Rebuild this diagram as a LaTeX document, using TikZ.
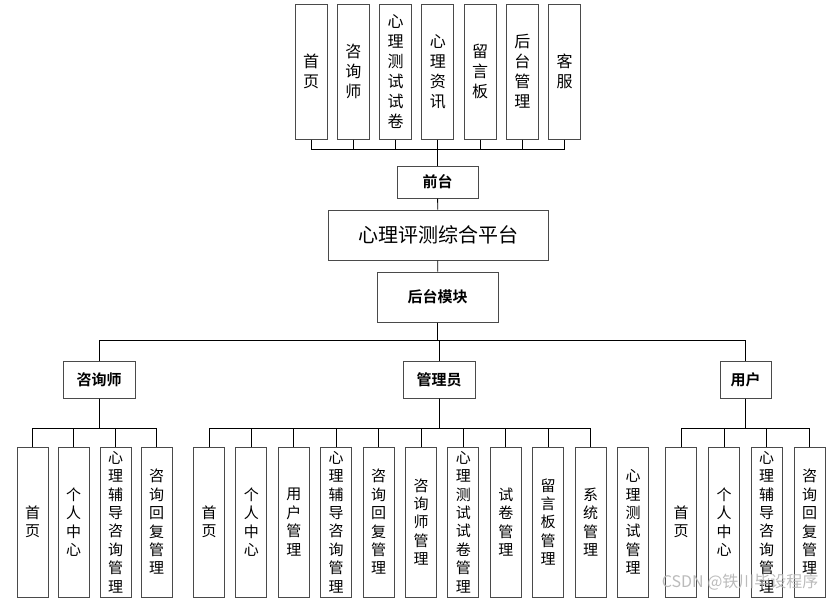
\documentclass[tikz,border=0pt]{standalone}
\usepackage{fontspec}
\setmainfont{Noto Sans CJK SC}
\newfontfamily\cjkbold{Noto Sans CJK SC Bold}
\usetikzlibrary{calc}
\definecolor{boxgray}{HTML}{4A4A4A}
\definecolor{marktext}{HTML}{B4B4B4}

\begin{document}
\begin{tikzpicture}[x=1pt, y=-1pt,
    box/.style={draw=boxgray, line width=1pt, fill=white, inner sep=0pt, align=center},
    tall/.style={box, minimum width=32pt, minimum height=135pt, font=\fontsize{16}{20}\selectfont},
    leaf/.style={box, minimum width=31pt, minimum height=150pt, font=\fontsize{15}{18.4}\selectfont},
    role/.style={box, minimum height=37pt, font=\cjkbold\fontsize{15}{18}\selectfont},
    link/.style={draw=black, line width=0.9pt}
  ]
    \useasboundingbox (0,0) rectangle (835,603);

    % front-end pages
    \node[tall] (sy)   at (311.0, 71.5) {首\\页};
    \node[tall] (zxs)  at (353.3, 71.5) {咨\\询\\师};
    \node[tall] (xlsj) at (395.5, 71.5) {心\\理\\测\\试\\试\\卷};
    \node[tall] (xlzx) at (437.8, 71.5) {心\\理\\资\\讯};
    \node[tall] (lyb)  at (480.0, 71.5) {留\\言\\板};
    \node[tall] (htgl) at (522.3, 71.5) {后\\台\\管\\理};
    \node[tall] (kf)   at (564.5, 71.5) {客\\服};

    \node[box, minimum width=81pt, minimum height=32pt, font=\cjkbold\fontsize{15}{18}\selectfont]
          (qt) at (437.5,182) {前台};
    \node[box, minimum width=220pt, minimum height=50pt, font=\fontsize{20}{24}\selectfont]
          (pt) at (438,235) {心理评测综合平台};
    \node[box, minimum width=121pt, minimum height=50pt, font=\cjkbold\fontsize{15}{18}\selectfont]
          (ht) at (437.5,297) {后台模块};

    % roles
    \node[role, minimum width=72pt] (rz) at (99,379.5)    {咨询师};
    \node[role, minimum width=72pt] (rg) at (439,379.5)   {管理员};
    \node[role, minimum width=51pt] (ry) at (745.5,379.5) {用户};

    % counsellor
    \node[leaf] (z1) at (32.5,522)  {首\\页};
    \node[leaf] (z2) at (73.5,522)  {个\\人\\中\\心};
    \node[leaf] (z3) at (115.5,522) {心\\理\\辅\\导\\咨\\询\\管\\理};
    \node[leaf] (z4) at (156.5,522) {咨\\询\\回\\复\\管\\理};

    % administrator
    \node[leaf] (g1)  at (209.0,522) {首\\页};
    \node[leaf] (g2)  at (251.4,522) {个\\人\\中\\心};
    \node[leaf] (g3)  at (293.8,522) {用\\户\\管\\理};
    \node[leaf] (g4)  at (336.2,522) {心\\理\\辅\\导\\咨\\询\\管\\理};
    \node[leaf] (g5)  at (378.6,522) {咨\\询\\回\\复\\管\\理};
    \node[leaf] (g6)  at (421.0,522) {咨\\询\\师\\管\\理};
    \node[leaf] (g7)  at (463.4,522) {心\\理\\测\\试\\试\\卷\\管\\理};
    \node[leaf] (g8)  at (505.8,522) {试\\卷\\管\\理};
    \node[leaf] (g9)  at (548.2,522) {留\\言\\板\\管\\理};
    \node[leaf] (g10) at (590.6,522) {系\\统\\管\\理};
    \node[leaf] (g11) at (633.0,522) {心\\理\\测\\试\\管\\理};

    % user
    \node[leaf] (y1) at (681.0,522) {首\\页};
    \node[leaf] (y2) at (724.0,522) {个\\人\\中\\心};
    \node[leaf] (y3) at (766.5,522) {心\\理\\辅\\导\\咨\\询\\管\\理};
    \node[leaf] (y4) at (809.5,522) {咨\\询\\回\\复\\管\\理};

    % connectors
    \draw[link] (sy.south)   -- ++(0,10) -| (qt.north);
    \draw[link] (zxs.south)  -- ++(0,10) -| (qt.north);
    \draw[link] (xlsj.south) -- ++(0,10) -| (qt.north);
    \draw[link] (xlzx.south) -- ++(0,10) -| (qt.north);
    \draw[link] (lyb.south)  -- ++(0,10) -| (qt.north);
    \draw[link] (htgl.south) -- ++(0,10) -| (qt.north);
    \draw[link] (kf.south)   -- ++(0,10) -| (qt.north);

    \draw[link] (qt) -- (pt);
    \draw[link] (pt) -- (ht);

    \draw[link] (ht.south) -- ++(0,18) -| (rz.north);
    \draw[link] (ht.south) -- ++(0,18) -| (rg.north);
    \draw[link] (ht.south) -- ++(0,18) -| (ry.north);

    \draw[link] (rz.south) -- ++(0,30) -| (z1.north);
    \draw[link] (rz.south) -- ++(0,30) -| (z2.north);
    \draw[link] (rz.south) -- ++(0,30) -| (z3.north);
    \draw[link] (rz.south) -- ++(0,30) -| (z4.north);

    \draw[link] (rg.south) -- ++(0,30) -| (g1.north);
    \draw[link] (rg.south) -- ++(0,30) -| (g2.north);
    \draw[link] (rg.south) -- ++(0,30) -| (g3.north);
    \draw[link] (rg.south) -- ++(0,30) -| (g4.north);
    \draw[link] (rg.south) -- ++(0,30) -| (g5.north);
    \draw[link] (rg.south) -- ++(0,30) -| (g6.north);
    \draw[link] (rg.south) -- ++(0,30) -| (g7.north);
    \draw[link] (rg.south) -- ++(0,30) -| (g8.north);
    \draw[link] (rg.south) -- ++(0,30) -| (g9.north);
    \draw[link] (rg.south) -- ++(0,30) -| (g10.north);

    \draw[link] (ry.south) -- ++(0,30) -| (y1.north);
    \draw[link] (ry.south) -- ++(0,30) -| (y2.north);
    \draw[link] (ry.south) -- ++(0,30) -| (y3.north);
    \draw[link] (ry.south) -- ++(0,30) -| (y4.north);

    \node[text=marktext, opacity=0.9, font=\fontsize{16}{18}\selectfont, anchor=east]
          (mark) at (822,582) {CSDN @铁川毕设程序};
  \end{tikzpicture}
\end{document}
